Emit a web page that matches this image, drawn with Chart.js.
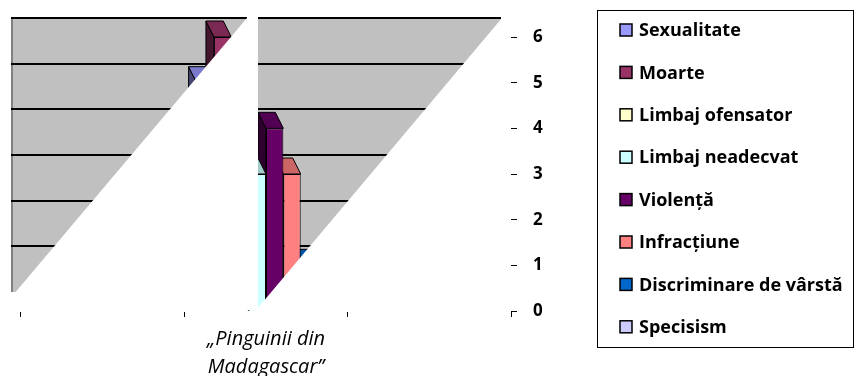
<!DOCTYPE html>
<html>
<head>
<meta charset="utf-8">
<script src="https://cdn.jsdelivr.net/npm/chart.js@4"></script>
<style>
  html, body { margin: 0; padding: 0; background: #fff; }
</style>
</head>
<body>
<canvas id="chart" width="855" height="376"></canvas>
<script>
// categories (only the middle one carries a label and values)
const categories = ['', ['\u201EPinguinii din', 'Madagascar\u201D'], ''];
const yTicks = [0, 1, 2, 3, 4, 5, 6];

// one array per series
const sexualitate = [null, 5, null];
const moarte = [null, 6, null];
const limbajOfensator = [null, 2, null];
const limbajNeadecvat = [null, 3, null];
const violenta = [null, 4, null];
const infractiune = [null, 3, null];
const discriminare = [null, 1, null];
const specisism = [null, 1, null];

const seriesNames = ['Sexualitate', 'Moarte', 'Limbaj ofensator', 'Limbaj neadecvat',
  'Violență', 'Infracțiune', 'Discriminare de vârstă', 'Specisism'];
const seriesValues = [sexualitate, moarte, limbajOfensator, limbajNeadecvat,
  violenta, infractiune, discriminare, specisism];
const seriesColors = ['#9999FF', '#993366', '#FFFFCC', '#CCFFFF',
  '#660066', '#FF8080', '#0066CC', '#CCCCFF'];

const FONT = '"Open Sans", "Noto Sans", sans-serif';
const WALL_DX = 10, WALL_DY = 19;   // back wall offset
const BAR_DX = 8, BAR_DY = 16;      // bar depth

function shade(hex, f) {
  const n = parseInt(hex.slice(1), 16);
  const r = Math.round(((n >> 16) & 255) * f);
  const g = Math.round(((n >> 8) & 255) * f);
  const b = Math.round((n & 255) * f);
  return `rgb(${r},${g},${b})`;
}

function poly(ctx, pts, fill, stroke) {
  ctx.beginPath();
  ctx.moveTo(pts[0][0], pts[0][1]);
  for (let i = 1; i < pts.length; i++) ctx.lineTo(pts[i][0], pts[i][1]);
  ctx.closePath();
  if (fill) { ctx.fillStyle = fill; ctx.fill(); }
  if (stroke) { ctx.strokeStyle = stroke; ctx.lineWidth = 1; ctx.stroke(); }
}

// gray back wall, grid lines and the 3D sides/tops of the bars
const wall3d = {
  id: 'wall3d',
  beforeDatasetsDraw(chart) {
    const { ctx, chartArea: a, scales: { y } } = chart;
    const L = a.left - WALL_DX, R = a.right - WALL_DX;
    const T = y.getPixelForValue(yTicks[yTicks.length - 1]) - WALL_DY;
    const B = y.getPixelForValue(0) - WALL_DY;
    ctx.save();
    ctx.fillStyle = '#C0C0C0';
    ctx.fillRect(L, T, R - L, B - T);
    ctx.fillStyle = '#808080';
    ctx.fillRect(L, T, 2, B - T);
    ctx.strokeStyle = '#000';
    ctx.lineWidth = 2;
    yTicks.slice(1).forEach(v => {
      const py = Math.round(y.getPixelForValue(v) - WALL_DY);
      ctx.beginPath();
      ctx.moveTo(L, py);
      ctx.lineTo(R, py);
      ctx.stroke();
    });
    for (let i = chart.data.datasets.length - 1; i >= 0; i--) {
      const meta = chart.getDatasetMeta(i);
      const col = seriesColors[i];
      meta.data.forEach((bar, j) => {
        if (seriesValues[i][j] == null) return;
        const p = bar.getProps(['x', 'y', 'base', 'width'], true);
        const x0 = p.x - p.width / 2, x1 = p.x + p.width / 2;
        poly(ctx, [[x0, p.y], [x0 - BAR_DX, p.y - BAR_DY], [x0 - BAR_DX, p.base - BAR_DY], [x0, p.base]],
          shade(col, 0.45), '#000');
        poly(ctx, [[x0, p.y], [x1, p.y], [x1 - BAR_DX, p.y - BAR_DY], [x0 - BAR_DX, p.y - BAR_DY]],
          shade(col, 0.8), '#000');
      });
    }
    ctx.restore();
  },
  // the white cut-outs of the original picture
  afterDatasetsDraw(chart) {
    const { ctx, chartArea: a, scales: { x, y } } = chart;
    const L = a.left - WALL_DX, R = a.right - WALL_DX;
    const T = y.getPixelForValue(yTicks[yTicks.length - 1]) - WALL_DY;
    const B = y.getPixelForValue(0) - WALL_DY;
    const y0 = y.getPixelForValue(0);
    const yCut = y0 + 1;
    const mid = x.getPixelForValue(1);
    const gapL = mid - 19, gapR = mid - 8;
    ctx.save();
    ctx.fillStyle = '#fff';
    ctx.fillRect(gapL, 0, gapR - gapL, y0 - 1);
    // left panel
    const k1 = (gapL - (L + 2)) / (B + 3 - T);
    const yLeft = T + gapL * (1 / k1);   // diagonal height at x = 0
    poly(ctx, [[gapL, T], [gapL, yCut], [0, yCut], [0, yLeft]], '#fff');
    // right panel
    const k2 = (R - (gapR - 1)) / (y0 - 2 - T);
    poly(ctx, [[R + 1, T], [R + 1, yCut], [R - (yCut - T) * k2, yCut]], '#fff');
    ctx.restore();
  }
};

// boxed legend on the right
const boxLegend = {
  id: 'boxLegend',
  afterDraw(chart) {
    const { ctx } = chart;
    const left = 597, top = 10, right = 853, bottom = 347;
    ctx.save();
    ctx.strokeStyle = '#000';
    ctx.lineWidth = 1;
    ctx.strokeRect(left + 0.5, top + 0.5, right - left, bottom - top);
    ctx.font = `bold 18px ${FONT}`;
    ctx.textBaseline = 'middle';
    ctx.textAlign = 'left';
    seriesNames.forEach((name, i) => {
      const cy = 30 + i * 42.4;
      ctx.fillStyle = seriesColors[i];
      ctx.fillRect(620, cy - 6, 12, 12);
      ctx.lineWidth = 1.5;
      ctx.strokeStyle = '#000';
      ctx.strokeRect(620, cy - 6, 12, 12);
      ctx.fillStyle = '#000';
      ctx.fillText(name, 639, cy + 1);
    });
    ctx.restore();
  }
};

new Chart(document.getElementById('chart'), {
  type: 'bar',
  data: {
    labels: categories,
    datasets: seriesNames.map((name, i) => ({
      label: name,
      data: seriesValues[i],
      backgroundColor: seriesColors[i],
      borderColor: '#000',
      borderWidth: 1,
      borderSkipped: 'start',
      categoryPercentage: 0.85,
      barPercentage: 1
    }))
  },
  options: {
    responsive: false,
    animation: false,
    devicePixelRatio: 1,
    layout: { padding: { left: 21, top: 37, right: 304, bottom: 0 } },
    plugins: { legend: { display: false }, tooltip: { enabled: false } },
    scales: {
      x: {
        grid: { drawOnChartArea: false, drawTicks: true, tickLength: 6, color: '#000' },
        border: { display: false },
        ticks: {
          color: '#000', maxRotation: 0, padding: 8,
          font: { family: FONT, size: 20, style: 'italic', lineHeight: 1.4 }
        },
        afterFit(scale) { scale.height = 65; }
      },
      y: {
        position: 'right',
        min: 0,
        max: 6,
        grid: { drawOnChartArea: false, drawTicks: true, tickLength: 6, color: '#000' },
        border: { display: false },
        ticks: {
          stepSize: 1, color: '#000', padding: 16,
          font: { family: FONT, size: 17, weight: 'bold' }
        },
        afterFit(scale) { scale.width = 40; }
      }
    }
  },
  plugins: [wall3d, boxLegend]
});
</script>
</body>
</html>
